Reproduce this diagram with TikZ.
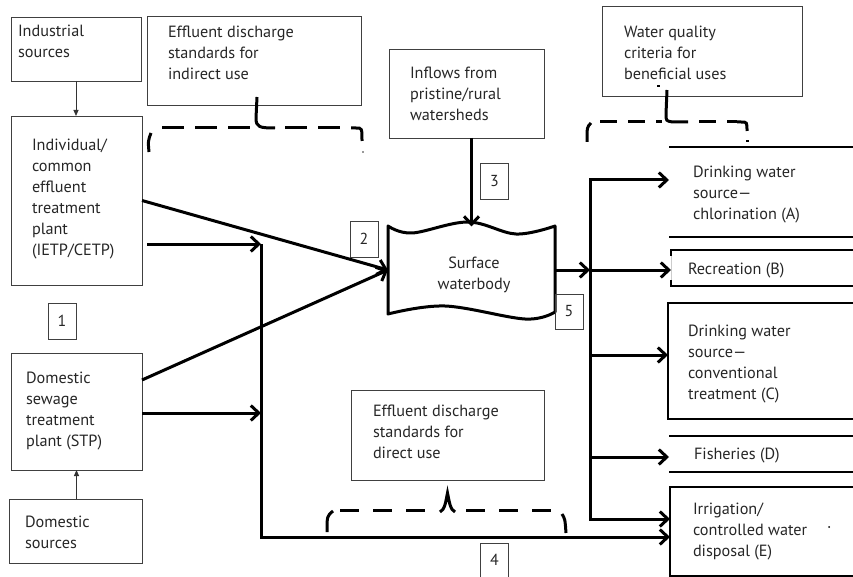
\documentclass[tikz,border=0pt]{standalone}
\usepackage{fontspec}
\setmainfont{PT Sans}
\usetikzlibrary{arrows.meta}
\begin{document}
\begin{tikzpicture}[x=1bp,y=-1bp,
  boxd/.style={draw=black!75, line width=0.9bp, inner sep=0pt, outer sep=0pt},
  boxn/.style={draw=none, inner sep=0pt, outer sep=0pt},
  txt/.style={anchor=north west, inner sep=0pt, outer sep=0pt, align=left,
    font=\fontsize{16.3}{21}\selectfont, text=black!85,
    execute at begin node={\rule{0pt}{12.5bp}}},
  num/.style={boxd, minimum width=28bp, minimum height=36bp,
    font=\fontsize{16}{18}\selectfont, text=black!85},
  thk/.style={line width=3bp},
  arr/.style={thk, -{Straight Barb[length=8bp,width=15bp]}},
  barr/.style={thk, line join=miter, {Straight Barb[length=8bp,width=15bp]}-{Straight Barb[length=8bp,width=15bp]}},
  thinarr/.style={line width=0.8bp, draw=black!80, -{Triangle[length=6bp,width=5bp]}},
  edgeln/.style={draw=black, line width=1.1bp},
  dsha/.style={thk, dash pattern=on 22bp off 11bp},
  dshb/.style={thk, dash pattern=on 17bp off 11bp},
  dshc/.style={thk, dash pattern=on 19bp off 14bp}
]
\useasboundingbox (0,0) rectangle (853,577);

% ---- boxes ----
\node[boxd, minimum width=130bp, minimum height=64bp] (ind) at (76,49) {};
\node[boxd, minimum width=131bp, minimum height=169bp] (ietp) at (76.5,200.5) {};
\node[boxd, minimum width=214bp, minimum height=89bp] (effi) at (254,60.5) {};
\node[boxd, minimum width=155bp, minimum height=89bp] (inf) at (466.5,93.5) {};
\node[boxd, minimum width=200bp, minimum height=90bp] (wq) at (702,51) {};
\node[boxd, minimum width=131bp, minimum height=117bp] (stp) at (76.5,411.5) {};
\node[boxd, minimum width=133bp, minimum height=64bp] (dom) at (75.5,531) {};
\node[boxd, minimum width=193bp, minimum height=90bp] (effd) at (447.5,435) {};
\node[boxn, minimum width=184bp, minimum height=90bp] (A) at (761,192) {};
\node[boxn, minimum width=182bp, minimum height=36bp] (B) at (762,268) {};
\node[boxn, minimum width=185bp, minimum height=116bp] (C) at (760.5,361) {};
\node[boxn, minimum width=184bp, minimum height=36bp] (D) at (761,454) {};
\node[boxn, minimum width=183bp, minimum height=89bp] (E) at (761.5,531.5) {};
\node[boxn, minimum width=167bp, minimum height=87bp] (W) at (471.5,270) {};

% open boxes on the right
\draw[edgeln] (A.north west) -- (A.north east);
\draw[edgeln] (A.south west) -- (A.south east);
\draw[black!20, line width=0.8bp] (B.north west) -- (B.south west);
\draw[edgeln] (B.north east) -- (B.north west) -- ++(0,6);
\draw[edgeln] (B.south east) -- (B.south west) -- ++(0,-6);
\draw[edgeln] (C.north east) -- (C.north west) -- (C.south west) -- (C.south east);
\draw[edgeln] (D.north west) -- (D.north east);
\draw[edgeln] (D.south west) -- (D.south east);
\draw[edgeln] (E.north east) -- (E.north west) -- (E.south west) -- (E.south east);

% surface waterbody outline
\draw[thk, line join=round] (388,314) --
  plot[smooth, tension=0.6] coordinates {(388,226) (412,233) (468,222) (516,234) (555,226)} --
  plot[smooth, tension=0.6] coordinates {(555,312) (525,319) (445,306) (388,314)} -- cycle;

% ---- texts ----
\node[txt] (ind-t) at (18,25) {Industrial\\sources};
\node[txt] (ietp-t) at (32,139) {Individual/\\common\\effluent\\treatment\\plant\\(IETP/CETP)};
\node[txt] (effi-t) at (168,26) {Effluent discharge\\standards for\\indirect use};
\node[txt] (inf-t) at (410,67) {Inflows from\\pristine/rural\\watersheds};
\node[txt] (wq-t) at (624,26) {Water quality\\criteria for\\beneficial uses};
\node[txt] (A-t) at (693,166) {Drinking water\\source—\\chlorination (A)};
\node[txt] (B-t) at (688,262) {Recreation (B)};
\node[txt] (C-t) at (688,325) {Drinking water\\source—\\conventional\\treatment (C)};
\node[txt] (D-t) at (694,447) {Fisheries (D)};
\node[txt] (E-t) at (693,503) {Irrigation/\\controlled water\\disposal (E)};
\node[txt] (stp-t) at (26,372) {Domestic\\sewage\\treatment\\plant (STP)};
\node[txt] (dom-t) at (25,516) {Domestic\\sources};
\node[txt] (effd-t) at (373,405) {Effluent discharge\\standards for\\direct use};
\node[txt, anchor=north, align=center] (W-t) at (474,257) {Surface\\waterbody};

% ---- number boxes ----
\node[num] (n1) at (62,321) {1};
\node[num] (n2) at (364,239) {2};
\node[num] (n3) at (494.5,181) {3};
\node[num, minimum height=34bp] (n4) at (494.5,560) {4};
\node[num, minimum height=35bp] (n5) at (569,311.5) {5};

% ---- connectors ----
\coordinate (L1) at (261,244);
\coordinate (L2) at (261,413);
\coordinate (L3) at (261,537);
\coordinate (s1) at (147,244);
\coordinate (s2) at (142,380);
\coordinate (R1) at (590,180);
\coordinate (R2) at (590,270);
\coordinate (R3) at (590,355);
\coordinate (R4) at (590,457);
\coordinate (R5) at (590,519);

\draw[thinarr] (ind.south) -- (ind.south |- ietp.north);
\draw[thinarr] (stp.south |- dom.north) -- (stp.south);

\draw[arr] (ietp.east) -- (W.west);
\draw[arr] (s2) -- (W.west);
\draw[arr] (s1) -- (L1);
\draw[arr] (stp.east |- L2) -- (L2);
\draw[arr, line join=miter] (L1) -- (L3) -- (L3 -| E.west);
\draw[arr] (inf.south -| W.north) -- (W.north);
\draw[arr] (W.east) -- (R2);
\draw[arr] (R2) -- (R2 -| B.west);
\draw[barr] (R1 -| A.west) -- (R1) -- (R5) -- (R5 -| E.west);
\draw[arr] (R3) -- (R3 -| C.west);
\draw[arr] (R4) -- (R4 -| D.west);

% ---- dashed braces ----
% upper left
\draw[thk] (149,152) .. controls (148,141) .. (151,133);
\draw[dsha] (162,128) -- (250,128);
\draw[thk] (effi.south -| 257,0) ++(0,-8) -- (256,118) .. controls (256,127) and (259,128) .. (275,128);
\draw[dsha] (285,128) -- (340,128);
\draw[thk] (351,128) -- (356,128) .. controls (362,128) .. (362,141);
\fill[black!40] (362,151) rectangle (364,153);
% upper right
\draw[thk] (587,142) .. controls (587,127) .. (591,123);
\draw[dshb] (600,122) -- (662,122);
\draw[thk] (wq.south -| 667,0) ++(0,-6) -- (666,114) .. controls (666,121) .. (673,122) -- (688,122);
\draw[dshb] (699,122) -- (737,122);
\draw[thk] (737,122) -- (741,122) .. controls (747,122) .. (747,131);
\fill (746,140) rectangle (748.5,142.5);
\fill (657,85) rectangle (660,87);
% lower
\draw[thk] (327,532) .. controls (327,516) .. (333,511);
\draw[dshc] (340,510) -- (426,510);
\draw[thk] (440,512) .. controls (445,510) and (446,500) .. (447.5,493) .. controls (449,500) and (450,510) .. (455,512);
\draw[dshc] (466,510) -- (557,510);
\draw[thk] (562,514) .. controls (565,519) .. (566,533);
\fill (829,527) circle (1bp);
\end{tikzpicture}
\end{document}
